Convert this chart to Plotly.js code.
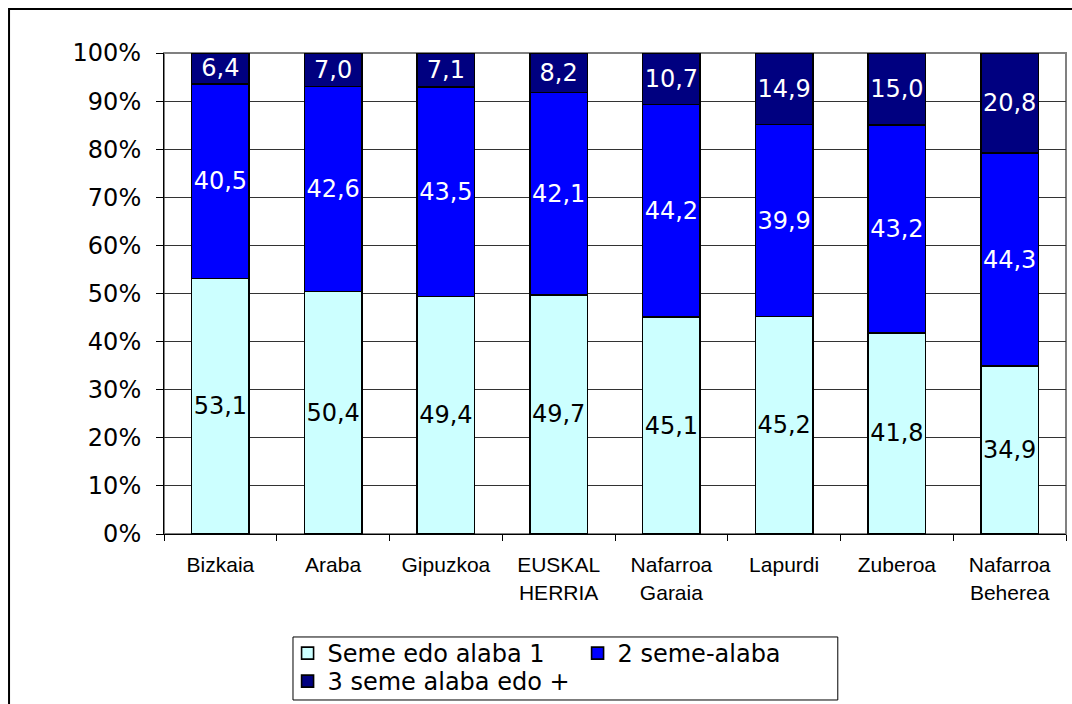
<!DOCTYPE html>
<html>
<head>
<meta charset="utf-8">
<script src="https://cdn.plot.ly/plotly-3.0.1.min.js"></script>
<style>
  body { margin: 0; background: #fff; }
  #chart { width: 1072px; height: 704px; }
</style>
</head>
<body>
<div id="chart"></div>
<script>
// categories (tick labels) and the three stacked series, in %
const regions = ['Bizkaia', 'Araba', 'Gipuzkoa', 'EUSKAL<br>HERRIA', 'Nafarroa<br>Garaia', 'Lapurdi', 'Zuberoa', 'Nafarroa<br>Beherea'];
const oneChild = [53.1, 50.4, 49.4, 49.7, 45.1, 45.2, 41.8, 34.9];
const twoChildren = [40.5, 42.6, 43.5, 42.1, 44.2, 39.9, 43.2, 44.3];
const threePlus = [6.4, 7.0, 7.1, 8.2, 10.7, 14.9, 15.0, 20.8];
const seriesNames = ['Seme edo alaba 1', '2 seme-alaba', '3 seme alaba edo +'];
const yTicks = [0, 10, 20, 30, 40, 50, 60, 70, 80, 90, 100];

const labelFont = 'DejaVu Sans, Verdana, sans-serif';

function barTrace(values, name, color, textColor, legendId) {
    return {
        type: 'bar',
        x: regions,
        y: values,
        name: name,
        legend: legendId,
        marker: { color: color, line: { color: '#000', width: 1.6 } },
        text: values,
        texttemplate: '%{y:.1f}',
        textposition: 'inside',
        insidetextanchor: 'middle',
        textangle: 0,
        constraintext: 'none',
        textfont: { family: labelFont, size: 24, color: textColor },
        hoverinfo: 'skip'
    };
}

const traces = [
    barTrace(oneChild, seriesNames[0], '#ccffff', '#000', 'legend'),
    barTrace(twoChildren, seriesNames[1], '#0000ff', '#fff', 'legend'),
    barTrace(threePlus, seriesNames[2], '#000080', '#fff', 'legend2')
];

const layout = {
    width: 1072,
    height: 704,
    margin: { l: 164, r: 6, t: 53, b: 170 },
    paper_bgcolor: '#fff',
    plot_bgcolor: '#fff',
    barmode: 'stack',
    bargap: 0.49,
    separators: ',.',
    showlegend: true,
    font: { family: labelFont, color: '#000' },
    xaxis: {
        type: 'category',
        tickson: 'boundaries',
        ticks: 'outside',
        ticklen: 6,
        tickcolor: '#000',
        showline: true,
        linecolor: '#000',
        linewidth: 1,
        showgrid: false,
        tickangle: 0,
        automargin: false,
        ticklabelstandoff: 12,
        tickfont: { family: 'Liberation Sans, Arial, sans-serif', size: 21, color: '#000' }
    },
    yaxis: {
        range: [0, 100],
        tickvals: yTicks,
        ticktext: yTicks.map(v => v + '%'),
        ticks: 'outside',
        ticklen: 7,
        tickcolor: '#000',
        showline: true,
        linecolor: '#000',
        linewidth: 1,
        showgrid: true,
        gridcolor: '#333',
        gridwidth: 1,
        zeroline: false,
        automargin: false,
        ticklabelstandoff: 10,
        tickfont: { family: labelFont, size: 24, color: '#000' }
    },
    legend: {
        orientation: 'h',
        x: 0.137, xanchor: 'left',
        yref: 'container',
        y: 0.1037, yanchor: 'top',
        entrywidth: 245,
        bgcolor: 'rgba(0,0,0,0)',
        borderwidth: 0,
        font: { family: labelFont, size: 24, color: '#000' },
        traceorder: 'normal'
    },
    legend2: {
        orientation: 'h',
        x: 0.137, xanchor: 'left',
        yref: 'container',
        y: 0.0639, yanchor: 'top',
        bgcolor: 'rgba(0,0,0,0)',
        borderwidth: 0,
        font: { family: labelFont, size: 24, color: '#000' }
    },
    shapes: [
        // plot area frame (grey)
        { type: 'rect', xref: 'paper', yref: 'paper', x0: 0, x1: 1, y0: 0, y1: 1,
          line: { color: '#808080', width: 2 }, layer: 'between' },
        // legend box
        { type: 'rect', xref: 'paper', yref: 'paper', x0: 0.143, x1: 0.747, y0: -0.3451, y1: -0.2141,
          line: { color: '#000', width: 1 } },
        // chart outer frame (only top and left edges are visible)
        { type: 'rect', xref: 'paper', yref: 'paper', x0: -0.1718, x1: 1.2, y0: -0.6, y1: 1.0915,
          line: { color: '#000', width: 2 } }
    ]
};

Plotly.newPlot('chart', traces, layout, { displayModeBar: false, staticPlot: true });
</script>
</body>
</html>
